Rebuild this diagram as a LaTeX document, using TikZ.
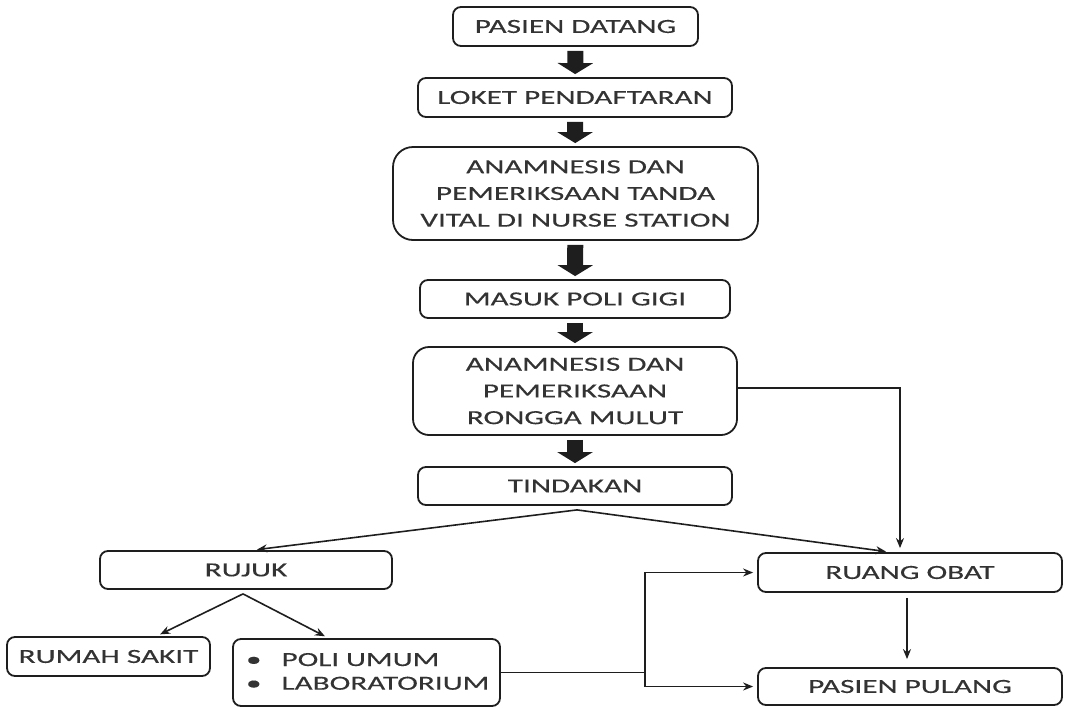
\documentclass[tikz,border=0pt]{standalone}
\usepackage{fontspec}
\setmainfont{Carlito}[FakeStretch=1.56,FakeBold=0.3]
\usetikzlibrary{arrows.meta,calc}
\definecolor{lc}{HTML}{1E1E1E}
\definecolor{tc}{HTML}{333333}
\begin{document}
\begin{tikzpicture}[x=1pt,y=-1pt,
  box/.style={draw=lc, line width=1.8pt, rounded corners=8pt, inner sep=0pt,
    font=\fontsize{20}{26.7}\selectfont, text=tc, align=center},
  bigbox/.style={box, rounded corners=20pt},
  blk/.style={draw=lc, line width=16pt, -{Triangle[width=35pt,length=11pt]},
    shorten <=4pt, shorten >=3pt},
  thin/.style={draw=lc, line width=1.6pt, -{Stealth[length=10pt,width=8pt]}, shorten >=4pt},
  plain/.style={draw=lc, line width=1.6pt}]
\useasboundingbox (0,0) rectangle (1076,707);

\node[box, minimum width=245pt, minimum height=39pt] (b1) at (575.5,26.5) {PASIEN DATANG};
\node[box, minimum width=314pt, minimum height=39pt] (b2) at (575,97.5) {LOKET PENDAFTARAN};
\node[bigbox, minimum width=365pt, minimum height=93pt] (b3) at (575.5,193.5)
  {ANAMNESIS DAN\\PEMERIKSAAN TANDA\\VITAL DI NURSE STATION};
\node[box, minimum width=310pt, minimum height=38pt] (b4) at (575,299) {MASUK POLI GIGI};
\node[bigbox, rounded corners=16pt, minimum width=324pt, minimum height=88pt] (b5) at (575,391)
  {ANAMNESIS DAN\\PEMERIKSAAN\\RONGGA MULUT};
\node[box, minimum width=314pt, minimum height=38pt] (b6) at (575,486) {TINDAKAN};
\node[box, minimum width=292pt, minimum height=38pt] (rujuk) at (246,570) {RUJUK};
\node[box, minimum width=304pt, minimum height=39pt] (obat) at (910,572.5) {RUANG OBAT};
\node[box, minimum width=203pt, minimum height=39pt] (rs) at (108.5,656.5) {RUMAH SAKIT};
\node[box, minimum width=267pt, minimum height=67pt, text width=241pt, align=left] (poli) at (366.5,672.5)
  {\begin{tabular}{@{}l@{\hspace{20pt}}l@{}}•&POLI UMUM\\[-3pt]•&LABORATORIUM\end{tabular}};
\node[box, minimum width=304pt, minimum height=37pt] (pulang) at (910,686.5) {PASIEN PULANG};

\draw[blk] (b1) -- (b2);
\draw[blk] (b2) -- (b3);
\draw[blk] (b3) -- (b4);
\draw[blk] (b4) -- (b5);
\draw[blk] (b5) -- (b6);

\coordinate (ts) at ($(b6.south)+(2,4)$);
\draw[thin] (ts) -- ([xshift=7pt]rujuk.north);
\draw[thin] (ts) -- ([xshift=-20pt]obat.north);
\draw[thin] ([yshift=3pt]b5.east) -| ([xshift=-10pt]obat.north);

\coordinate (rs0) at ($(rujuk.south)+(-3,4)$);
\draw[thin] (rs0) -- ([xshift=48pt]rs.north);
\draw[thin] (rs0) -- ([xshift=-38pt]poli.north);

\coordinate (j) at (645,672.5);
\draw[plain] (poli.east) -- (j);
\draw[thin] (j) |- (obat.west);
\draw[thin] (j) |- (pulang.west);
\draw[thin, shorten <=5pt, shorten >=8pt] ([xshift=-3pt]obat.south) -- ([xshift=-3pt]pulang.north);
\end{tikzpicture}
\end{document}
